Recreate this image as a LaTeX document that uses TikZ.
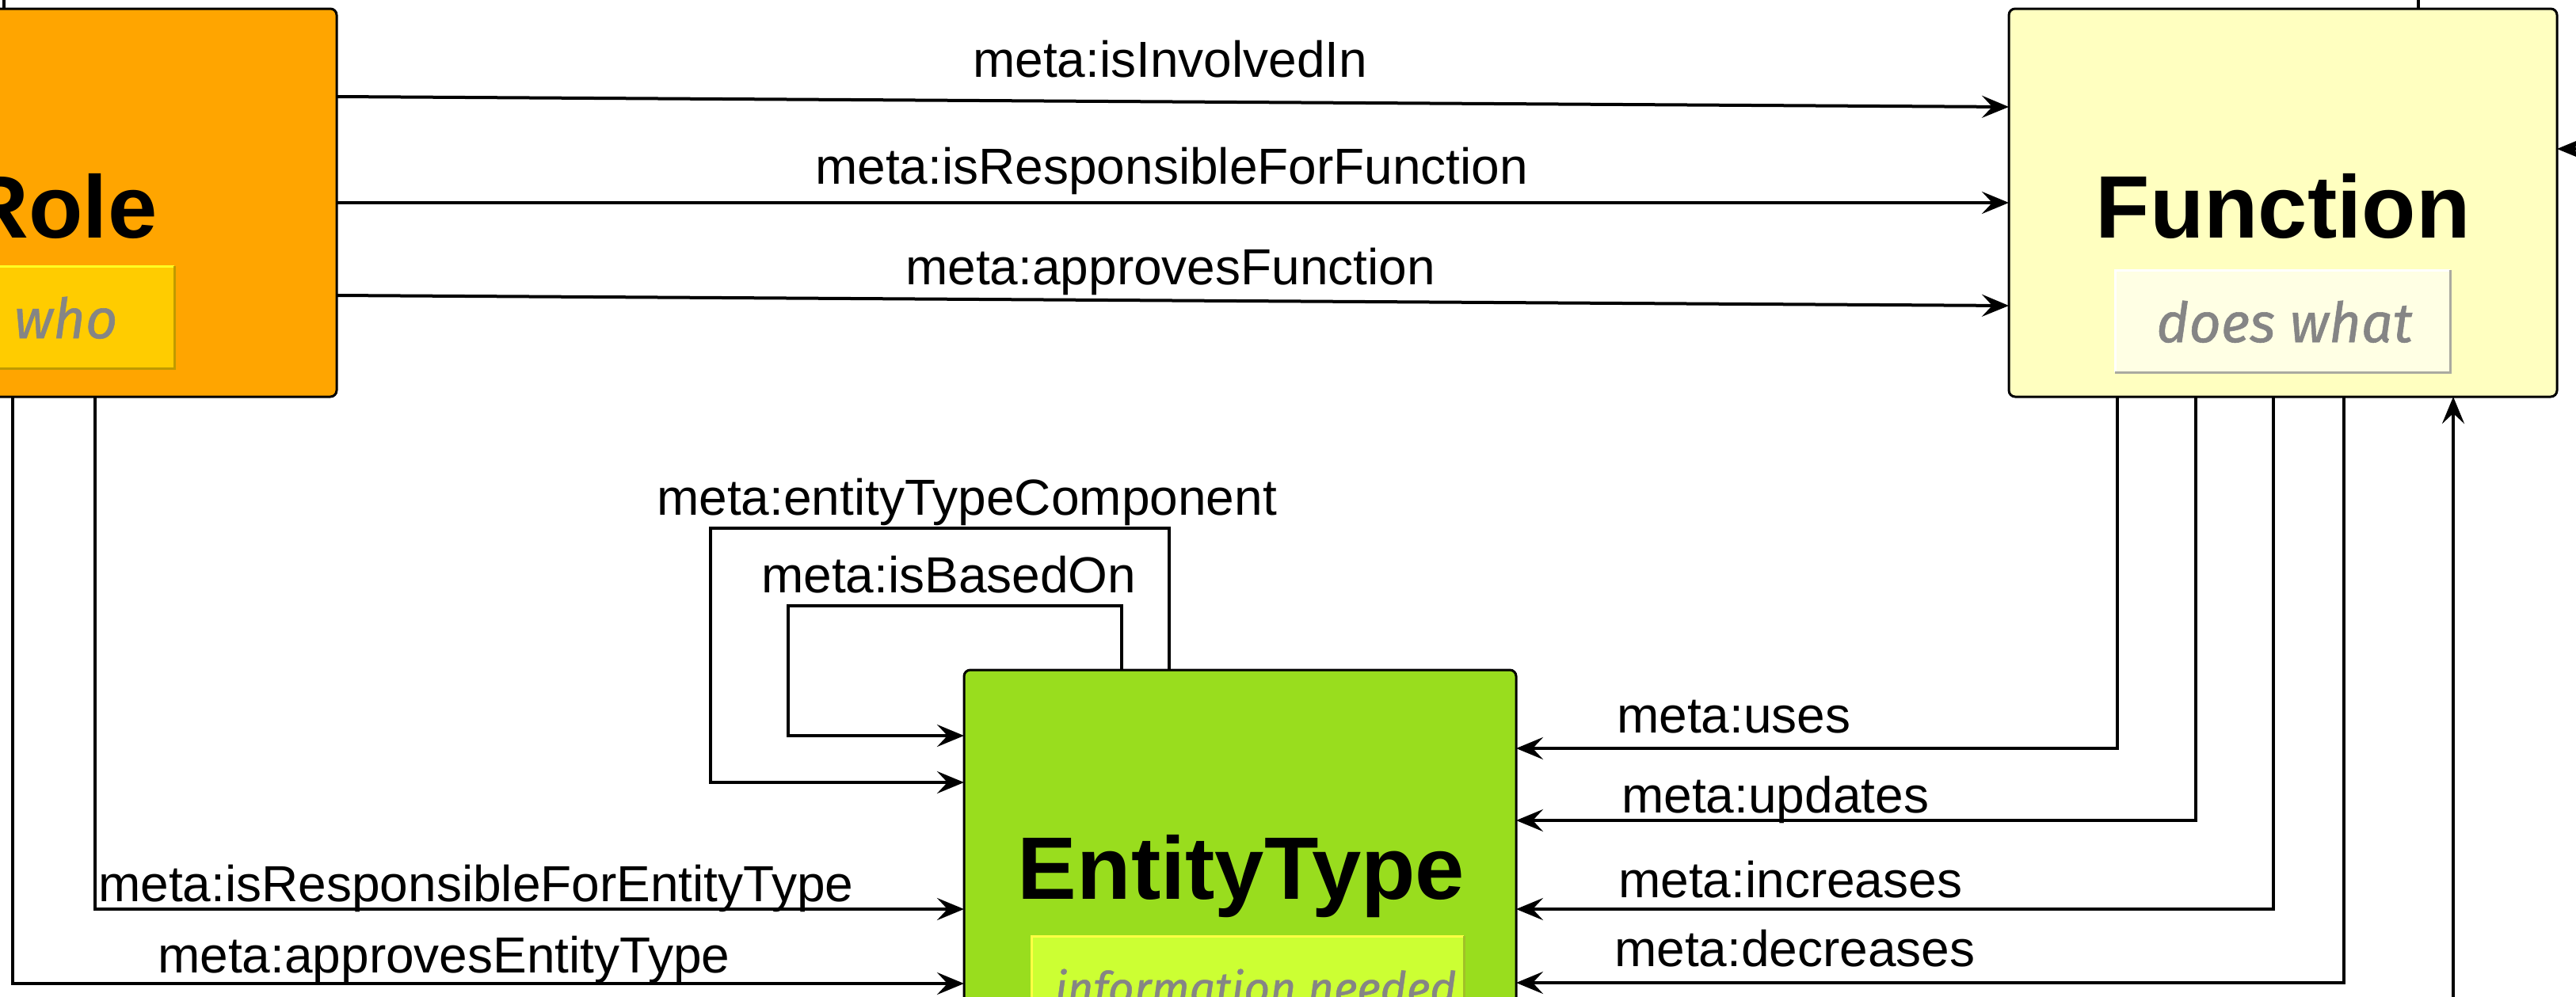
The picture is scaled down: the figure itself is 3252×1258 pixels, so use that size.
\documentclass[tikz,border=0pt]{standalone}
\usepackage{fontspec}
\setmainfont{Liberation Sans}
\newfontfamily\subfont[FakeBold=0.8]{Fira Sans}
\usetikzlibrary{arrows.meta}
\definecolor{roleFill}{HTML}{FFA500}
\definecolor{whoFill}{HTML}{FFCC00}
\definecolor{whoHi}{HTML}{FFFF22}
\definecolor{whoSh}{HTML}{C09A00}
\definecolor{funcFill}{HTML}{FFFFC0}
\definecolor{doesFill}{HTML}{FFFFE4}
\definecolor{doesHi}{HTML}{FFFFFF}
\definecolor{doesSh}{HTML}{AAAAA0}
\definecolor{entFill}{HTML}{99DD1E}
\definecolor{infoFill}{HTML}{CCFF33}
\definecolor{infoHi}{HTML}{FFFF44}
\definecolor{infoSh}{HTML}{A0C028}
\definecolor{subText}{HTML}{858585}
\begin{document}
\begin{tikzpicture}[x=1pt,y=-1pt,
  box/.style={draw=black, line width=3pt, rounded corners=8pt, minimum width=692pt, minimum height=490pt, inner sep=0pt, outer sep=0pt},
  subbox/.style={inner sep=0pt, outer sep=0pt, minimum height=129pt},
  hi/.style={line width=3pt},
  title/.style={anchor=base, inner sep=0pt, font=\fontsize{112}{120}\selectfont\bfseries},
  subtitle/.style={anchor=base, inner sep=0pt, text=subText, font=\fontsize{70}{76}\subfont\itshape},
  lbl/.style={anchor=base west, inner sep=0pt, font=\fontsize{64}{70}\selectfont},
  conn/.style={line width=4pt, -{Stealth[length=34pt,width=28pt,inset=13pt]}},
  plain/.style={line width=4pt}
]
\useasboundingbox (0,0) rectangle (3252,1258);
\clip (0,0) rectangle (3252,1258);

% boxes
\node[box, fill=roleFill] (role) at (79,256) {};
\node[box, fill=funcFill] (func) at (2882,256) {};
\node[box, fill=entFill, minimum width=697pt] (ent) at (1565.5,1091) {};

% sub boxes
\node[subbox, fill=whoFill, minimum width=282pt] (whoB) at (79,400.5) {};
\draw[hi, whoHi] (whoB.south west) |- (whoB.north east);
\draw[hi, whoSh] (whoB.north east) |- (whoB.south west);
\node[subbox, fill=doesFill, minimum width=423pt] (doesB) at (2881.5,405.5) {};
\draw[hi, doesHi] (doesB.south west) |- (doesB.north east);
\draw[hi, doesSh] (doesB.north east) |- (doesB.south west);
\node[subbox, fill=infoFill, minimum width=546pt] (infoB) at (1575,1246.5) {};
\draw[hi, infoHi] (infoB.south west) |- (infoB.north east);
\draw[hi, infoSh] (infoB.north east) |- (infoB.south west);

% titles
\node[title] (roleT) at (77,300) {Role};
\node[title] (funcT) at (2882,300) {Function};
\node[title] (entT) at (1567,1135) {EntityType};
\node[subtitle] (roleS) at (83,427) {who};
\node[subtitle] (funcS) at (2884,432) {does what};
\node[subtitle, font=\fontsize{57}{62}\subfont\itshape] (entS) at (1585,1268) {information needed};

% free ends
\coordinate (rtop) at (5,-60);
\coordinate (ftop) at (3053,-60);
\coordinate (rsrc) at (3320,188);
\coordinate (upsrc) at (3097,1320);
\coordinate (loopA) at (897,667);
\coordinate (loopB) at (995,765);

% outer connectors
\draw[plain] ([xshift=-74pt]role.north) -- (rtop);
\draw[plain] ([xshift=171pt]func.north) -- (ftop);
\draw[conn] (rsrc) -- ([yshift=68pt]func.east);
\draw[conn] (upsrc) -- ([xshift=215pt]func.south);

% Role -> Function
\draw[conn] ([yshift=134pt]role.east) -- ([yshift=121pt]func.west);
\draw[conn] (role.east) -- (func.west);
\draw[conn] ([yshift=-117pt]role.east) -- ([yshift=-130pt]func.west);

% Role -> EntityType
\draw[conn] ([xshift=41pt]role.south) |- ([yshift=-57pt]ent.west);
\draw[conn] ([xshift=-63pt]role.south) |- ([yshift=-151pt]ent.west);

% self loops
\draw[conn] ([xshift=-89.5pt]ent.north) |- (loopA) |- ([yshift=103pt]ent.west);
\draw[conn] ([xshift=-149.5pt]ent.north) |- (loopB) |- ([yshift=162pt]ent.west);

% Function -> EntityType
\draw[conn] ([xshift=-209pt]func.south) |- ([yshift=146pt]ent.east);
\draw[conn] ([xshift=-110pt]func.south) |- ([yshift=55pt]ent.east);
\draw[conn] ([xshift=-12pt]func.south) |- ([yshift=-57pt]ent.east);
\draw[conn] ([xshift=77pt]func.south) |- ([yshift=-150pt]ent.east);

% labels
\node[lbl] (l1) at (1228,97) {meta:isInvolvedIn};
\node[lbl] (l2) at (1029,232) {meta:isResponsibleForFunction};
\node[lbl] (l3) at (1143,359) {meta:approvesFunction};
\node[lbl] (l4) at (829,650) {meta:entityTypeComponent};
\node[lbl] (l5) at (961,748) {meta:isBasedOn};
\node[lbl] (l6) at (124,1138) {meta:isResponsibleForEntityType};
\node[lbl] (l7) at (199,1228) {meta:approvesEntityType};
\node[lbl] (l8) at (2041,925) {meta:uses};
\node[lbl] (l9) at (2047,1026) {meta:updates};
\node[lbl] (l10) at (2043,1133) {meta:increases};
\node[lbl] (l11) at (2038,1220) {meta:decreases};
\end{tikzpicture}
\end{document}
